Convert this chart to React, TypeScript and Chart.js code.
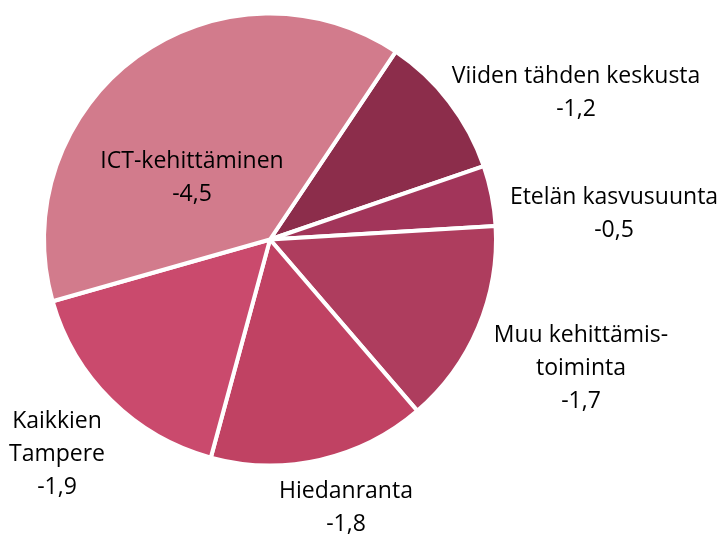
import React, { useEffect, useRef } from "react";
import { Chart, registerables } from "chart.js";

Chart.register(...registerables);

const categories: string[][] = [
  ["Viiden tähden keskusta"],
  ["Etelän kasvusuunta"],
  ["Muu kehittämis-", "toiminta"],
  ["Hiedanranta"],
  ["Kaikkien", "Tampere"],
  ["ICT-kehittäminen"],
];
const changes: number[] = [-1.2, -0.5, -1.7, -1.8, -1.9, -4.5];
const valueLabels: string[] = ["-1,2", "-0,5", "-1,7", "-1,8", "-1,9", "-4,5"];
const colors: string[] = ["#8C2D4B", "#A2355A", "#AE3D5E", "#C04263", "#CA4A6D", "#D27B8C"];

// label anchor: text center x, first baseline y (layout only)
const labelAnchors: [number, number][] = [
  [576, 83],
  [614, 204],
  [581, 342],
  [346, 498],
  [57, 428],
  [192, 168],
];
const LINE_H = 33;
const FONT = "23px 'Open Sans', Lato, 'Liberation Sans', sans-serif";

const labelPlugin = {
  id: "pieLabels",
  afterDraw(chart: any) {
    const ctx = chart.ctx as CanvasRenderingContext2D;
    ctx.save();
    ctx.font = FONT;
    ctx.fillStyle = "#000000";
    ctx.textAlign = "center";
    ctx.textBaseline = "alphabetic";
    categories.forEach((lines, i) => {
      const [x, y] = labelAnchors[i];
      const all = [...lines, valueLabels[i]];
      all.forEach((t, j) => ctx.fillText(t, x, y + j * LINE_H));
    });
    ctx.restore();
  },
};

export default function App() {
  const ref = useRef<HTMLCanvasElement | null>(null);
  useEffect(() => {
    if (!ref.current) return;
    const chart = new Chart(ref.current, {
      type: "pie",
      data: {
        labels: categories.map((c) => c.join(" ")),
        datasets: [
          {
            data: changes.map((v) => Math.abs(v)),
            backgroundColor: colors,
            borderColor: "#ffffff",
            borderWidth: 4,
            radius: 226,
          } as any,
        ],
      },
      options: {
        animation: false,
        responsive: false,
        rotation: 33.8,
        layout: { padding: { left: 0, top: 0, right: 185, bottom: 55 } },
        plugins: { legend: { display: false }, tooltip: { enabled: false } },
      },
      plugins: [labelPlugin],
    });
    return () => chart.destroy();
  }, []);
  return (
    <div style={{ position: "fixed", left: 0, top: 0, width: 725, height: 534, background: "#fff" }}>
      <canvas ref={ref} width={725} height={534} />
    </div>
  );
}
